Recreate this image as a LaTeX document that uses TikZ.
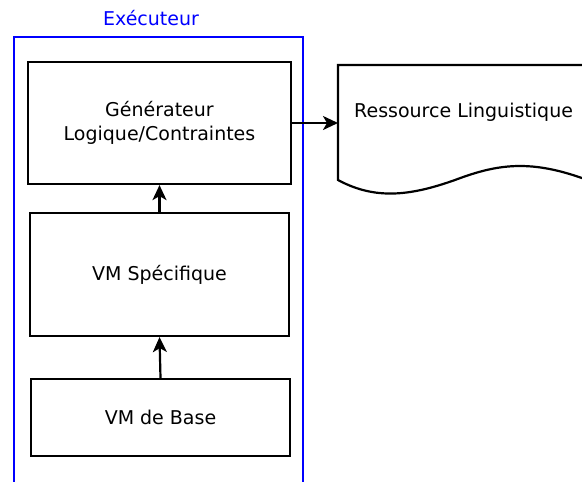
\documentclass[tikz,border=0pt]{standalone}
\usepackage{fontspec}
\setmainfont{DejaVu Sans}
\usetikzlibrary{arrows.meta}
\begin{document}
\begin{tikzpicture}[x=1pt,y=-1pt,
  box/.style={draw=black,line width=2.2pt,fill=white,inner sep=0pt,align=center,
    font=\fontsize{19}{24}\selectfont},
  txt/.style={inner sep=0pt,align=center,font=\fontsize{19}{24}\selectfont},
  arr/.style={line width=2.2pt,-{Stealth[length=15pt,width=14pt,inset=4pt]}}]
\useasboundingbox (0,0) rectangle (582,482);
\clip (0,0) rectangle (582,482);
% container
\draw[blue,line width=2.2pt] (14,490) -- (14,37) -- (303,37) -- (303,490);
\node[txt,text=blue] (exec) at (151,18) {Exécuteur};
% boxes
\node[box,minimum width=263pt,minimum height=122pt] (gen) at (159.5,123) {Générateur\\Logique/Contraintes};
\node[box,minimum width=259pt,minimum height=123pt] (spec) at (159.5,274.5) {VM Spécifique};
\node[box,minimum width=259pt,minimum height=77pt] (base) at (160.5,417.5) {VM de Base};
% document shape
\coordinate (resw) at (338,123);
\draw[line width=2.2pt,fill=white] (600,65) -- (338,65) -- (338,180)
  .. controls (375,200) and (410,196) .. (455,180)
  .. controls (500,163) and (535,158) .. (600,185);
\node[txt,anchor=west] (res) at (354,112) {Ressource Linguistique};
% arrows
\draw[arr] (base.north) -- (spec.south);
\draw[arr] (spec.north) -- (gen.south);
\draw[arr] (gen.east) -- (resw);
\end{tikzpicture}
\end{document}
